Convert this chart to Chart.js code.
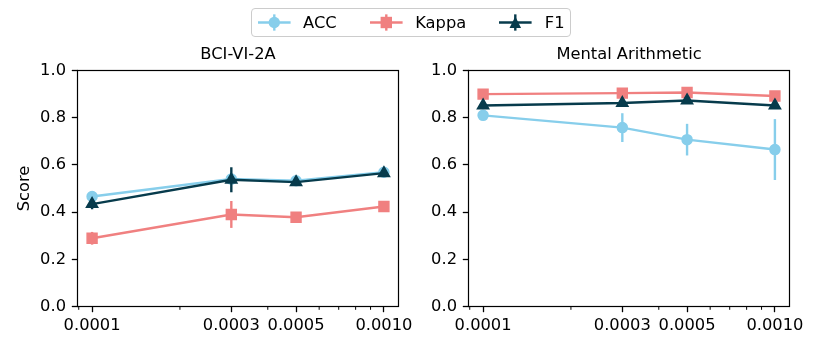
<!DOCTYPE html>
<html>
<head>
<meta charset="utf-8">
<script src="https://cdn.jsdelivr.net/npm/chart.js@4.4.1/dist/chart.umd.min.js"></script>
<style>
html,body{margin:0;padding:0;background:#fff;}
#wrap{position:relative;width:822px;height:352px;overflow:hidden;font-family:'DejaVu Sans';background:#fff;}
canvas{position:absolute;top:0;}
#legendBox{position:absolute;left:251px;top:7.5px;width:320px;height:29px;box-sizing:border-box;border:1px solid #cccccc;border-radius:4px;background:rgba(255,255,255,0.8);}
.lt{position:absolute;top:7.5px;height:29px;line-height:29px;font-size:16.3px;color:#000;white-space:nowrap;font-family:'DejaVu Sans';}
.li{position:absolute;top:7.5px;}
</style>
</head>
<body>
<div id="wrap">
<canvas id="c1" width="420" height="352" style="left:0px"></canvas>
<canvas id="c2" width="411" height="352" style="left:411px"></canvas>
<div id="legendBox"></div>
</div>
<script>
// ---------- data ----------
const learningRates = [0.0001, 0.0003, 0.0005, 0.0010];
const tickLabels = ['0.0001', '0.0003', '0.0005', '0.0010'];
const minorTicks = [0.00009, 0.0002, 0.0004, 0.0006, 0.0007, 0.0008, 0.0009];
const seriesNames = ['ACC', 'Kappa', 'F1'];
const panelTitles = ['BCI-VI-2A', 'Mental Arithmetic'];
const yAxisTitle = 'Score';

const bciAcc      = [0.466, 0.540, 0.533, 0.569];
const bciAccErr   = [0.010, 0.020, 0.010, 0.010];
const bciKappa    = [0.289, 0.390, 0.378, 0.424];
const bciKappaErr = [0.027, 0.057, 0.012, 0.010];
const bciF1       = [0.434, 0.537, 0.527, 0.565];
const bciF1Err    = [0.022, 0.053, 0.012, 0.010];

const maAcc       = [0.810, 0.758, 0.707, 0.665];
const maAccErr    = [0.012, 0.061, 0.067, 0.129];
const maKappa     = [0.900, 0.904, 0.907, 0.892];
const maKappaErr  = [0.008, 0.008, 0.008, 0.008];
const maF1        = [0.852, 0.862, 0.873, 0.852];
const maF1Err     = [0.008, 0.008, 0.008, 0.008];

// ---------- styles ----------
const colors = ['#87CEEB', '#F08080', '#073B4C'];
const styles = ['circle', 'rect', 'triangle'];
const radii  = [5, 7, 6.5];
const FONT = {family: 'DejaVu Sans', size: 16.3, weight: 'normal', lineHeight: 1.2};

Chart.defaults.color = '#000';
Chart.defaults.font.family = 'DejaVu Sans';

const errorBarPlugin = {
  id: 'errbars',
  beforeDatasetDraw(chart, args) {
    const ds = chart.data.datasets[args.index];
    if (!ds.errors) return;
    const ctx = chart.ctx, ys = chart.scales.y;
    ctx.save();
    ctx.strokeStyle = ds.borderColor;
    ctx.lineWidth = 2.4;
    ctx.lineCap = 'butt';
    args.meta.data.forEach((pt, i) => {
      const v = ds.data[i].y, e = ds.errors[i];
      ctx.beginPath();
      ctx.moveTo(pt.x, ys.getPixelForValue(v - e));
      ctx.lineTo(pt.x, ys.getPixelForValue(v + e));
      ctx.stroke();
    });
    ctx.restore();
  }
};

const framePlugin = {
  id: 'frame',
  afterDraw(chart) {
    const ctx = chart.ctx, a = chart.chartArea, xs = chart.scales.x;
    ctx.save();
    ctx.strokeStyle = '#000';
    ctx.lineWidth = 1.2;
    ctx.strokeRect(a.left, a.top, a.right - a.left, a.bottom - a.top);
    ctx.lineWidth = 1;
    minorTicks.forEach(v => {
      const px = xs.getPixelForValue(v);
      ctx.beginPath();
      ctx.moveTo(px, a.bottom);
      ctx.lineTo(px, a.bottom + 3.3);
      ctx.stroke();
    });
    ctx.restore();
  }
};

function makeDataset(k, vals, errs) {
  return {
    label: seriesNames[k],
    data: learningRates.map((x, i) => ({x: x, y: vals[i]})),
    errors: errs,
    borderColor: colors[k],
    backgroundColor: colors[k],
    borderWidth: 2.4,
    pointStyle: styles[k],
    pointRadius: radii[k],
    pointBorderWidth: 1.5,
    pointBackgroundColor: colors[k],
    pointBorderColor: colors[k],
    order: 3 - k,
    tension: 0,
    clip: false
  };
}

function buildChart(id, title, series, yWidth, padRight, showYTitle) {
  const tickGrid = {display: true, drawOnChartArea: false, drawTicks: true, tickLength: 5.7, tickWidth: 1.3, tickColor: '#000'};
  return new Chart(document.getElementById(id), {
    type: 'line',
    data: {datasets: series.map((s, k) => makeDataset(k, s[0], s[1]))},
    options: {
      responsive: false, animation: false, devicePixelRatio: 1, events: [],
      layout: {padding: {left: 0, right: padRight, top: 0, bottom: 0}},
      plugins: {
        legend: {display: false},
        tooltip: {enabled: false},
        title: {display: true, fullSize: false, text: title, color: '#000', font: FONT, padding: {top: 45.2, bottom: 5.74}}
      },
      scales: {
        x: {
          type: 'logarithmic', min: Math.pow(10, -4.05), max: Math.pow(10, -2.95), bounds: 'data',
          afterBuildTicks(s) { s.ticks = learningRates.map(v => ({value: v})); },
          afterFit(s) { s.height = 45.5; },
          grid: tickGrid, border: {display: false},
          ticks: {autoSkip: false, maxRotation: 0, minRotation: 0, padding: 3.3, color: '#000', font: FONT,
                  callback: (v, i) => tickLabels[i]}
        },
        y: {
          min: 0, max: 1,
          afterFit(s) { s.width = yWidth; },
          grid: tickGrid, border: {display: false},
          ticks: {stepSize: 0.2, padding: 5.8, color: '#000', font: FONT, callback: v => Number(v).toFixed(1)},
          title: {display: showYTitle, text: yAxisTitle, color: '#000', font: FONT, padding: {top: 15.2, bottom: 0}}
        }
      }
    },
    plugins: [errorBarPlugin, framePlugin]
  });
}

buildChart('c1', panelTitles[0], [[bciAcc, bciAccErr], [bciKappa, bciKappaErr], [bciF1, bciF1Err]], 77.5, 21.5, true);
buildChart('c2', panelTitles[1], [[maAcc, maAccErr], [maKappa, maKappaErr], [maF1, maF1Err]], 57.5, 32.5, false);

// ---------- legend ----------
const wrap = document.getElementById('wrap');
const handleStarts = [257.5, 369.6, 499.2];
const textStarts = [303.1, 415.2, 544.8];
const NS = 'http://www.w3.org/2000/svg';
seriesNames.forEach((name, k) => {
  const svg = document.createElementNS(NS, 'svg');
  svg.setAttribute('class', 'li');
  svg.setAttribute('width', '34'); svg.setAttribute('height', '29');
  svg.style.left = handleStarts[k] + 'px';
  const c = colors[k], cx = 16.3, cy = 14.5;
  let html = `<line x1="0" y1="${cy}" x2="32.6" y2="${cy}" stroke="${c}" stroke-width="2.4"/>` +
             `<line x1="${cx}" y1="${cy - 8.15}" x2="${cx}" y2="${cy + 8.15}" stroke="${c}" stroke-width="2.4"/>`;
  if (styles[k] === 'circle') html += `<circle cx="${cx}" cy="${cy}" r="5.7" fill="${c}"/>`;
  else if (styles[k] === 'rect') html += `<rect x="${cx - 5.7}" y="${cy - 5.7}" width="11.4" height="11.4" fill="${c}"/>`;
  else html += `<polygon points="${cx},${cy - 5.9} ${cx - 5.8},${cy + 5.5} ${cx + 5.8},${cy + 5.5}" fill="${c}"/>`;
  svg.innerHTML = html;
  wrap.appendChild(svg);
  const t = document.createElement('span');
  t.className = 'lt';
  t.style.left = textStarts[k] + 'px';
  t.textContent = name;
  wrap.appendChild(t);
});
</script>
</body>
</html>
